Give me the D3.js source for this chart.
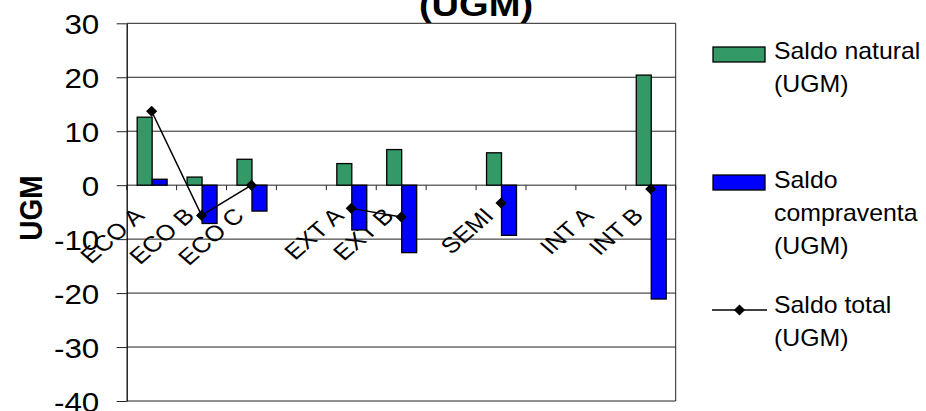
<!DOCTYPE html>
<html>
<head>
<meta charset="utf-8">
<script src="https://cdn.jsdelivr.net/npm/d3@7"></script>
<style>
  html, body { margin: 0; padding: 0; background: #fff; }
  svg { display: block; font-family: "Liberation Sans", Arial, sans-serif; }
</style>
</head>
<body>
<svg id="chart" width="926" height="411"></svg>
<script>
// Farm groups (blank entries leave an empty slot on the category axis)
const categories = ["ECO A", "ECO B", "ECO C", "", "EXT A", "EXT B", "", "SEMI", "", "INT A", "INT B"];
// Natural balance, livestock units
const saldoNatural = [12.6, 1.5, 4.8, null, 4.0, 6.6, null, 6.0, null, null, 20.4];
// Purchase/sale balance, livestock units
const saldoCompraventa = [1.1, -7.1, -4.8, null, -8.3, -12.5, null, -9.3, null, null, -21.1];
// Total balance, livestock units
const saldoTotal = [13.7, -5.6, 0.0, null, -4.3, -5.9, null, -3.3, null, null, -0.7];
const yTicks = [-40, -30, -20, -10, 0, 10, 20, 30];
const titleText = "(UGM)";
const yTitle = "UGM";
const legendLabels = [["Saldo natural", "(UGM)"], ["Saldo", "compraventa", "(UGM)"], ["Saldo total", "(UGM)"]];

const SX = 1.12; // horizontal text stretch
const GREEN = "#339966", BLUE = "#0000ff";

const svg = d3.select("#chart");
const plotL = 126.7, plotR = 675.7, plotT = 23.3, plotB = 401;

const x0 = d3.scaleBand().domain(d3.range(categories.length)).range([plotL, plotR]).padding(0);
const bw = x0.bandwidth();
const x1 = d3.scaleBand().domain(["nat", "cv"]).range([bw * 0.2 + 0.5, bw * 0.8 + 0.5]).padding(0);
const y = d3.scaleLinear().domain([-40, 30]).range([plotB, plotT]);

// gridlines
svg.append("g").selectAll("line").data(yTicks).join("line")
  .attr("x1", plotL).attr("x2", plotR)
  .attr("y1", d => y(d)).attr("y2", d => y(d))
  .attr("stroke", "#222").attr("stroke-width", 1);

// right edge of plot area
svg.append("line").attr("x1", plotR).attr("x2", plotR).attr("y1", plotT).attr("y2", plotB)
  .attr("stroke", "#222").attr("stroke-width", 1);

// y axis
const yAxis = svg.append("g").attr("transform", `translate(${plotL},0)`)
  .call(d3.axisLeft(y).tickValues(yTicks).tickSizeInner(10).tickSizeOuter(0).tickPadding(17.4).tickFormat(d => String(d)));
yAxis.select(".domain").attr("stroke", "#000").attr("stroke-width", 1.3);
yAxis.selectAll(".tick line").attr("stroke", "#222");
yAxis.selectAll(".tick text")
  .attr("x", -27.4 / SX).attr("dy", "0.36em")
  .attr("transform", `scale(${SX},1)`)
  .attr("font-size", 28).attr("fill", "#000")
  .attr("font-family", "'Liberation Sans', Arial, sans-serif");

// category labels
const xAxis = svg.append("g").attr("transform", `translate(0,${y(0)})`)
  .call(d3.axisBottom(x0).tickSize(0).tickFormat(i => categories[i]));
xAxis.select(".domain").remove();
xAxis.selectAll(".tick text")
  .attr("x", null).attr("y", null).attr("dy", null)
  .attr("text-anchor", "end")
  .attr("transform", `translate(-6,32) scale(1.15,1) rotate(-45)`)
  .attr("font-size", 22).attr("fill", "#000")
  .attr("font-family", "'Liberation Sans', Arial, sans-serif");

// category boundary ticks on the zero line
svg.append("g").selectAll("line").data(d3.range(categories.length + 1)).join("line")
  .attr("x1", i => plotL + i * bw).attr("x2", i => plotL + i * bw)
  .attr("y1", y(0)).attr("y2", y(0) + 5)
  .attr("stroke", "#222").attr("stroke-width", 1);

// bars
const barData = [];
categories.forEach((c, i) => {
  if (saldoNatural[i] != null) barData.push({ i, key: "nat", v: saldoNatural[i] });
  if (saldoCompraventa[i] != null) barData.push({ i, key: "cv", v: saldoCompraventa[i] });
});
svg.append("g").selectAll("rect").data(barData).join("rect")
  .attr("x", d => x0(d.i) + x1(d.key))
  .attr("width", x1.bandwidth())
  .attr("y", d => y(Math.max(0, d.v)))
  .attr("height", d => Math.abs(y(d.v) - y(0)))
  .attr("fill", d => d.key === "nat" ? GREEN : BLUE)
  .attr("stroke", "#000").attr("stroke-width", 1.3);

// total balance line
const cx = i => x0(i) + bw / 2;
const line = d3.line().defined(d => d != null).x((d, i) => cx(i)).y(d => y(d));
svg.append("path").datum(saldoTotal).attr("d", line)
  .attr("fill", "none").attr("stroke", "#000").attr("stroke-width", 1.5);
const diamond = d3.symbol().type(d3.symbolSquare).size(62);
svg.append("g").selectAll("path").data(saldoTotal.map((v, i) => ({ v, i })).filter(d => d.v != null)).join("path")
  .attr("d", diamond)
  .attr("transform", d => `translate(${cx(d.i)},${y(d.v)}) rotate(45)`)
  .attr("fill", "#000");

// title (second line)
svg.append("text").text(titleText)
  .attr("transform", `translate(476,16) scale(${SX},1)`)
  .attr("text-anchor", "middle").attr("font-size", 34).attr("font-weight", "bold");

// y axis title
svg.append("text").text(yTitle)
  .attr("transform", `translate(42,208) scale(${SX},1) rotate(-90)`)
  .attr("text-anchor", "middle").attr("font-size", 28).attr("font-weight", "bold");

// legend
const lg = svg.append("g");
lg.append("rect").attr("x", 713).attr("y", 47).attr("width", 52).attr("height", 15)
  .attr("fill", GREEN).attr("stroke", "#000").attr("stroke-width", 1.3);
lg.append("rect").attr("x", 713).attr("y", 175).attr("width", 52).attr("height", 15)
  .attr("fill", BLUE).attr("stroke", "#000").attr("stroke-width", 1.3);
lg.append("line").attr("x1", 712).attr("x2", 767).attr("y1", 310).attr("y2", 310)
  .attr("stroke", "#000").attr("stroke-width", 1.5);
lg.append("path").attr("d", diamond).attr("transform", "translate(739.5,310) rotate(45)").attr("fill", "#000");
const legendBase = [59, 188, 313];
legendLabels.forEach((lines, k) => {
  lines.forEach((t, j) => {
    lg.append("text").text(t)
      .attr("transform", `translate(774,${legendBase[k] + j * 33}) scale(1.08,1)`)
      .attr("font-size", 23).attr("fill", "#000");
  });
});
</script>
</body>
</html>
